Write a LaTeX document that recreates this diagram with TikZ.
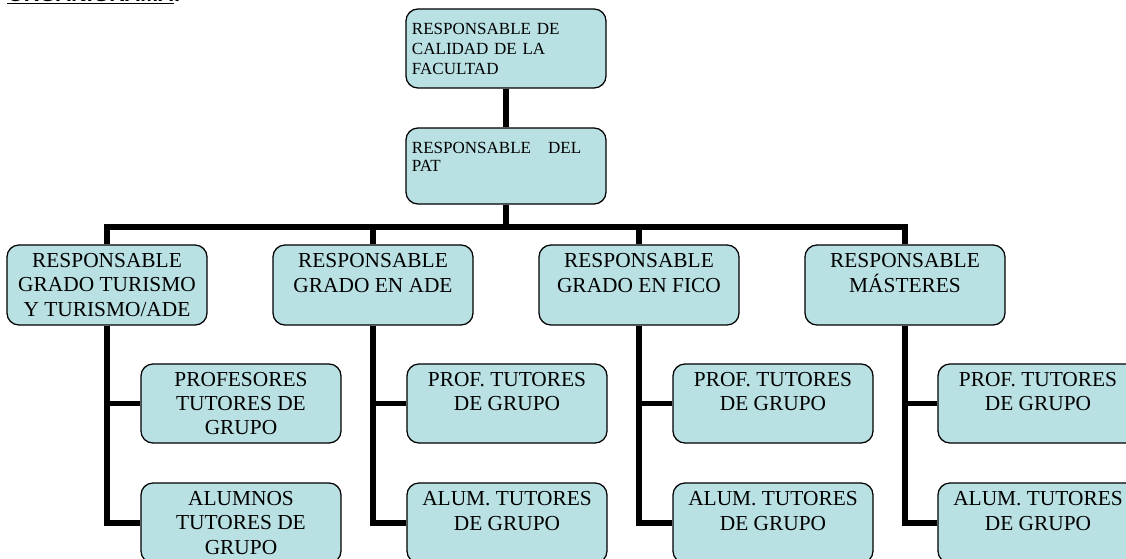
\documentclass[tikz,border=0pt]{standalone}
\usepackage{fontspec}
\setmainfont{Liberation Serif}
\newfontfamily\headfont{Liberation Sans}
\usepackage{xcolor}
\definecolor{boxblue}{RGB}{185,224,227}
\tikzset{
	unit/.style={draw=black, line width=0.9pt, fill=boxblue, rounded corners=0.3cm, minimum width=5cm, minimum height=2cm, inner sep=2pt, align=center, font=\fontsize{15.2}{17.4}\selectfont},
	topunit/.style={unit, align=left, text width=4.7cm, font=\fontsize{12.1}{14.2}\selectfont},
	conn/.style={line width=3.6pt, black}
}

\begin{document}
\begin{tikzpicture}[x=0.025cm,y=-0.025cm]
		\useasboundingbox (0,0) rectangle (1126,559);
		\clip (0,0) rectangle (1126,559);
		%heading
		\node[anchor=base west, inner sep=0pt, font=\headfont\bfseries\fontsize{15.2}{17}\selectfont] (hdr) at (7,1.5) {\underline{ORGANIGRAMA}:};
		
		%upper units
		\node[topunit, minimum height=1.975cm] (calidad) at (506,48.5) {RESPONSABLE DE\\CALIDAD DE LA\\FACULTAD};
		\node[topunit, minimum height=1.9cm, font=\fontsize{12.1}{12.9}\selectfont] (pat) at (506,166) {RESPONSABLE\ \ \ DEL\\PAT\\\mbox{}};
		
		%degree heads
		\node[unit] (g1) at (107,285) {RESPONSABLE\\GRADO TURISMO\\Y TURISMO/ADE};
		\node[unit] (g2) at (373,285) {RESPONSABLE\\GRADO EN ADE\\\mbox{}};
		\node[unit] (g3) at (639,285) {RESPONSABLE\\GRADO EN FICO\\\mbox{}};
		\node[unit] (g4) at (905,285) {RESPONSABLE\\MÁSTERES\\\mbox{}};
		
		%tutors
		\node[unit, minimum height=1.975cm] (p1) at (241,403.5) {PROFESORES\\TUTORES DE\\GRUPO};
		\node[unit] (a1) at (241,523) {ALUMNOS\\TUTORES DE\\GRUPO};
		\node[unit, minimum height=1.975cm] (p2) at (507,403.5) {PROF. TUTORES\\DE GRUPO\\\mbox{}};
		\node[unit] (a2) at (507,523) {ALUM. TUTORES\\DE GRUPO\\\mbox{}};
		\node[unit, minimum height=1.975cm] (p3) at (773,403.5) {PROF. TUTORES\\DE GRUPO\\\mbox{}};
		\node[unit] (a3) at (773,523) {ALUM. TUTORES\\DE GRUPO\\\mbox{}};
		\node[unit, minimum height=1.975cm] (p4) at (1038,403.5) {PROF. TUTORES\\DE GRUPO\\\mbox{}};
		\node[unit] (a4) at (1038,523) {ALUM. TUTORES\\DE GRUPO\\\mbox{}};
		
		%main line
		\coordinate (bar) at (0,227);
		\draw[conn] (calidad) -- (pat);
		\draw[conn] (pat.south) -- (pat.south |- bar);
		\draw[conn] (g1.north) -- (g1.north |- bar) -- (g4.north |- bar) -- (g4.north);
		\draw[conn] (g2.north) -- (g2.north |- bar);
		\draw[conn] (g3.north) -- (g3.north |- bar);
		
		%branches
		\draw[conn] (g1.south) |- (a1.west);
		\draw[conn] (p1.west) -- (p1.west -| g1.south);
		\draw[conn] (g2.south) |- (a2.west);
		\draw[conn] (p2.west) -- (p2.west -| g2.south);
		\draw[conn] (g3.south) |- (a3.west);
		\draw[conn] (p3.west) -- (p3.west -| g3.south);
		\draw[conn] (g4.south) |- (a4.west);
		\draw[conn] (p4.west) -- (p4.west -| g4.south);
	\end{tikzpicture}
\end{document}
